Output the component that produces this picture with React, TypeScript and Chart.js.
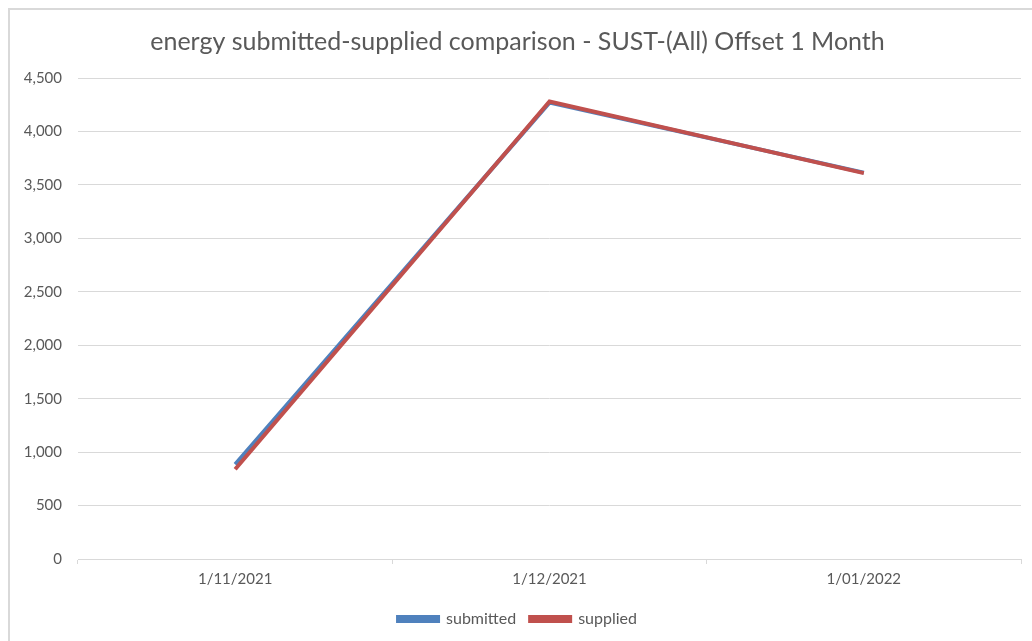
import React, { useEffect, useRef } from "react";
import { Chart, registerables } from "chart.js";

Chart.register(...registerables);

const categories = ["1/11/2021", "1/12/2021", "1/01/2022"];
const submittedValues = [885, 4270, 3615];
const suppliedValues = [840, 4280, 3610];
const yTicks = [0, 500, 1000, 1500, 2000, 2500, 3000, 3500, 4000, 4500];
const titleText = "energy submitted-supplied comparison - SUST-(All) Offset 1 Month";

const FONT = "Lato, 'Open Sans', sans-serif";
const TEXT = "#595959";
const GRID = "#d9d9d9";

export default function App() {
  const ref = useRef<HTMLCanvasElement>(null);
  useEffect(() => {
    if (!ref.current) return;
    const chart = new Chart(ref.current, {
      type: "line",
      data: {
        labels: categories,
        datasets: [
          {
            label: "submitted",
            data: submittedValues,
            borderColor: "#4f81bd",
            backgroundColor: "#4f81bd",
            borderWidth: 4,
            pointRadius: 0,
            tension: 0,
            order: 2,
          },
          {
            label: "supplied",
            data: suppliedValues,
            borderColor: "#c0504d",
            backgroundColor: "#c0504d",
            borderWidth: 4,
            pointRadius: 0,
            tension: 0,
            order: 1,
          },
        ],
      },
      options: {
        animation: false,
        responsive: true,
        maintainAspectRatio: false,
        layout: { padding: { left: 14, right: 11, top: 0, bottom: 4 } },
        plugins: {
          title: {
            display: true,
            text: titleText,
            color: TEXT,
            font: { family: FONT, size: 25, weight: "normal" },
            padding: { top: 27, bottom: 21 },
          },
          legend: {
            position: "bottom",
            labels: {
              color: TEXT,
              font: { family: FONT, size: 16 },
              boxWidth: 40,
              boxHeight: 4,
              padding: 14,
              sort: (a: any, b: any) => a.datasetIndex - b.datasetIndex,
            },
          },
          tooltip: { enabled: false },
        },
        scales: {
          x: {
            offset: true,
            afterFit: (scale: any) => {
              scale.height += 3;
            },
            grid: {
              offset: true,
              drawOnChartArea: false,
              drawTicks: true,
              tickLength: 5,
              color: GRID,
            },
            border: { color: GRID },
            ticks: {
              color: TEXT,
              font: { family: FONT, size: 15 },
              padding: 6,
            },
          },
          y: {
            min: 0,
            max: 4500,
            afterBuildTicks: (scale: any) => {
              scale.ticks = yTicks.map((v) => ({ value: v }));
            },
            afterFit: (scale: any) => {
              scale.width = 64;
            },
            grid: { color: GRID, drawTicks: false },
            border: { display: false },
            ticks: {
              color: TEXT,
              font: { family: FONT, size: 15 },
              padding: 16,
              callback: (v: any) => Number(v).toLocaleString("en-US"),
            },
          },
        },
      },
    });
    return () => chart.destroy();
  }, []);

  return (
    <div style={{ position: "fixed", left: 0, top: 0, width: 1032, height: 641, background: "#fff" }}>
      <div
        style={{
          position: "absolute",
          left: 8,
          top: 8,
          width: 1030,
          height: 640,
          borderLeft: "2px solid #d9d9d9",
          borderTop: "2px solid #d9d9d9",
          boxSizing: "border-box",
        }}
      />
      <div style={{ position: "absolute", left: 0, top: 0, width: 1032, height: 641 }}>
        <canvas ref={ref} />
      </div>
    </div>
  );
}
